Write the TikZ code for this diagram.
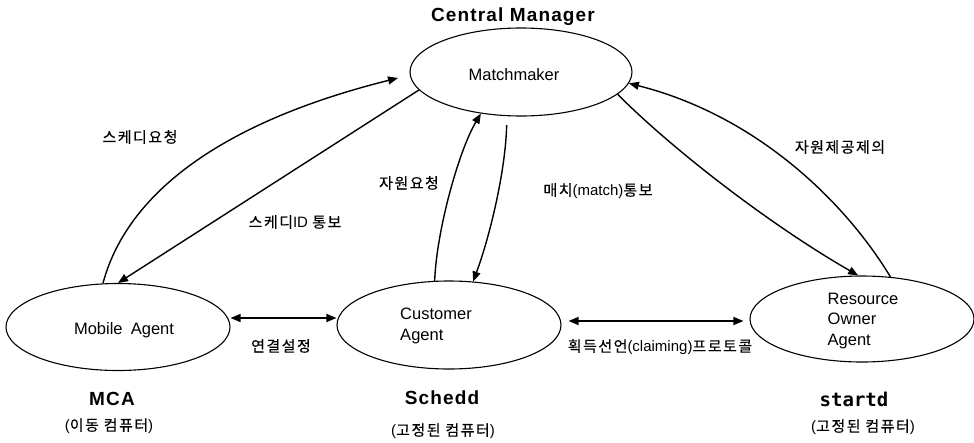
\documentclass[tikz,border=0pt]{standalone}
\usepackage{fontspec}
\setmainfont{Liberation Sans}
\newfontfamily\krfont{Noto Sans CJK KR}[LetterSpace=10, FakeBold=0.4]
\newfontfamily\monofam{DejaVu Sans Mono}
\newcommand\ko[1]{{\krfont #1}}
\usetikzlibrary{shapes.geometric,arrows.meta}
\begin{document}
\begin{tikzpicture}[x=1pt,y=-1pt,
  agent/.style={draw, ellipse, line width=1.1pt, inner sep=0pt},
  conn/.style={line width=1.4pt, -{Triangle[length=10pt,width=8pt]}},
  both/.style={line width=1.4pt, {Triangle[length=10pt,width=8pt]}-{Triangle[length=10pt,width=8pt]}},
  lbl/.style={inner sep=0pt, font=\fontsize{15}{18}\selectfont},
  txt/.style={inner sep=0pt, font=\fontsize{16.5}{20.5}\selectfont, align=left},
  head/.style={inner sep=0pt, font=\fontsize{19}{22}\selectfont\bfseries\addfontfeature{LetterSpace=6}},
]
\useasboundingbox (0,0) rectangle (974,442);

% the four daemons
\node[agent, minimum width=222pt, minimum height=88pt] (mm)  at (521,72)  {};
\node[agent, minimum width=224pt, minimum height=87pt] (mca) at (118,327) {};
\node[agent, minimum width=224pt, minimum height=88pt] (ca)  at (449,325) {};
\node[agent, minimum width=224pt, minimum height=86pt] (roa) at (862,319) {};

\node[txt] (mmtext)  at (514,75)  {Matchmaker};
\node[txt] (mcatext) at (124,330) {Mobile\enspace Agent};
\node[txt] (catext)  at (436,326) {Customer\\Agent};
\node[txt] (roatext) at (863,321) {Resource\\Owner\\Agent};

% machine names
\node[head] (cmname)  at (513,17)  {Central Manager};
\node[head] (mcaname) at (112,399) {MCA};
\node[lbl]  (mcanote) at (109,426) {(\ko{이동 컴퓨터})};
\node[head] (caname)  at (442,398) {Schedd};
\node[lbl]  (canote)  at (443,431) {(\ko{고정된 컴퓨터})};
\node[inner sep=0pt, font=\fontsize{19}{22}\selectfont\monofam\bfseries] (roaname) at (854,399) {startd};
\node[lbl]  (roanote) at (863,427) {(\ko{고정된 컴퓨터})};

% protocol messages
\coordinate (mmL) at (398,78);
\coordinate (mmB) at ([yshift=-9pt]mm.252);
\draw[conn] (mca.109) .. controls +(22,-83) and +(-188,47) .. (mmL);
\draw[conn] (mm.190) -- (mca.north);
\draw[conn] (ca.108) .. controls +(2,-51) and +(-22,37) .. (mm.226);
\draw[conn] (mmB) .. controls +(-1,45) and +(17,-46) .. (ca.61);
\draw[conn] (roa.56) .. controls +(-46,-76) and +(127,32) .. (mm.354);
\draw[conn] (mm.347) .. controls +(57,57) and +(-87,-50) .. (roa.95);
\draw[both] ([yshift=9pt]mca.east) -- ([yshift=7pt]ca.west);
\draw[both] ([shift={(7pt,4pt)}]ca.east) -- ([shift={(-6pt,-2pt)}]roa.west);

\node[lbl] (l1) at (140,137) {\ko{스케디요청}};
\node[lbl] (l2) at (295,222) {\ko{스케디}ID \ko{통보}};
\node[lbl] (l3) at (409,183) {\ko{자원요청}};
\node[lbl] (l4) at (598,191) {\ko{매치}(match)\ko{통보}};
\node[lbl] (l5) at (840,147) {\ko{자원제공제의}};
\node[lbl] (l6) at (281,346) {\ko{연결설정}};
\node[lbl] (l7) at (660,347) {\ko{획득선언}(claiming)\ko{프로토콜}};
\end{tikzpicture}
\end{document}
